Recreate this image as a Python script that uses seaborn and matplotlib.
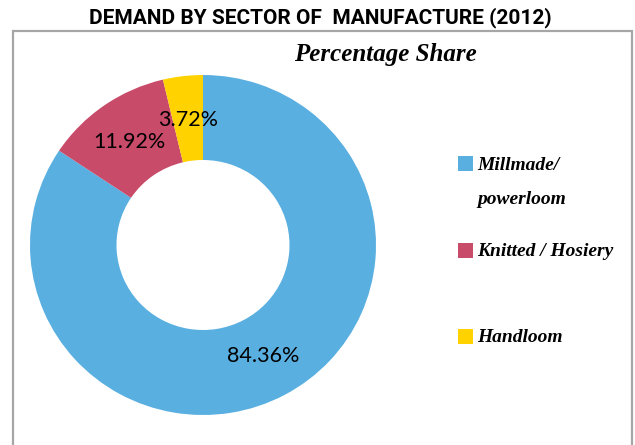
import matplotlib
matplotlib.use("Agg")
import matplotlib.pyplot as plt
from matplotlib.patches import Rectangle
import seaborn as sns

# ---- data ----
sectors = ["Millmade/\npowerloom", "Knitted / Hosiery", "Handloom"]
shares = [84.36, 11.92, 3.72]
colors = ["#5AAFE1", "#C84B6A", "#FFD200"]
title = "DEMAND BY SECTOR OF  MANUFACTURE (2012)"
subtitle = "Percentage Share"

sns.set_theme(style="white")
plt.rcParams["font.family"] = ["DejaVu Sans"]
plt.rcParams["text.color"] = "black"

W, H = 635, 445
fig = plt.figure(figsize=(W / 100, H / 100), dpi=100)
fig.patch.set_facecolor("white")

def fx(px):
    return px / W

def fy(py):
    return 1 - py / H

# frame
fig.patches.append(Rectangle((fx(13), fy(446)), fx(632) - fx(13), fy(31) - fy(446),
                             transform=fig.transFigure, fill=False,
                             edgecolor="#A6A6A6", linewidth=1.6))

# donut
cx, cy, rx, ry = 203, 245, 173, 170
ax = fig.add_axes([fx(cx - rx), fy(cy + ry), 2 * rx / W, 2 * ry / H])
wedges, texts, autotexts = ax.pie(
    shares, colors=colors, startangle=90, counterclock=False,
    autopct="%.2f%%", pctdistance=0.74,
    wedgeprops=dict(width=0.5, linewidth=0),
    textprops=dict(fontsize=15.5, family=["Lato", "DejaVu Sans"], color="black"),
    radius=1.0)
ax.set_xlim(-1, 1)
ax.set_ylim(-1, 1)
ax.set_aspect("auto")
ax.axis("off")

# titles
fig.text(fx(320), fy(18), title, ha="center", va="center", fontsize=15,
         fontweight="bold", family=["Roboto", "DejaVu Sans"], color="black")
fig.text(fx(385), fy(55), subtitle, ha="center", va="center", fontsize=18,
         fontweight="bold", fontstyle="italic", family=["Liberation Serif"],
         color="black")

# legend
leg_y = [163, 250, 336]
for lab, col, yy in zip(sectors, colors, leg_y):
    fig.patches.append(Rectangle((fx(458), fy(yy + 7.5)), 15 / W, 15 / H,
                                 transform=fig.transFigure, facecolor=col,
                                 edgecolor="none"))
    lines = lab.split("\n")
    for i, ln in enumerate(lines):
        fig.text(fx(477), fy(yy + 2 + i * 35), ln, ha="left", va="center",
                 fontsize=14, fontweight="bold", fontstyle="italic",
                 family=["Liberation Serif"], color="black")

fig.savefig("out.png", dpi=100, facecolor="white")
